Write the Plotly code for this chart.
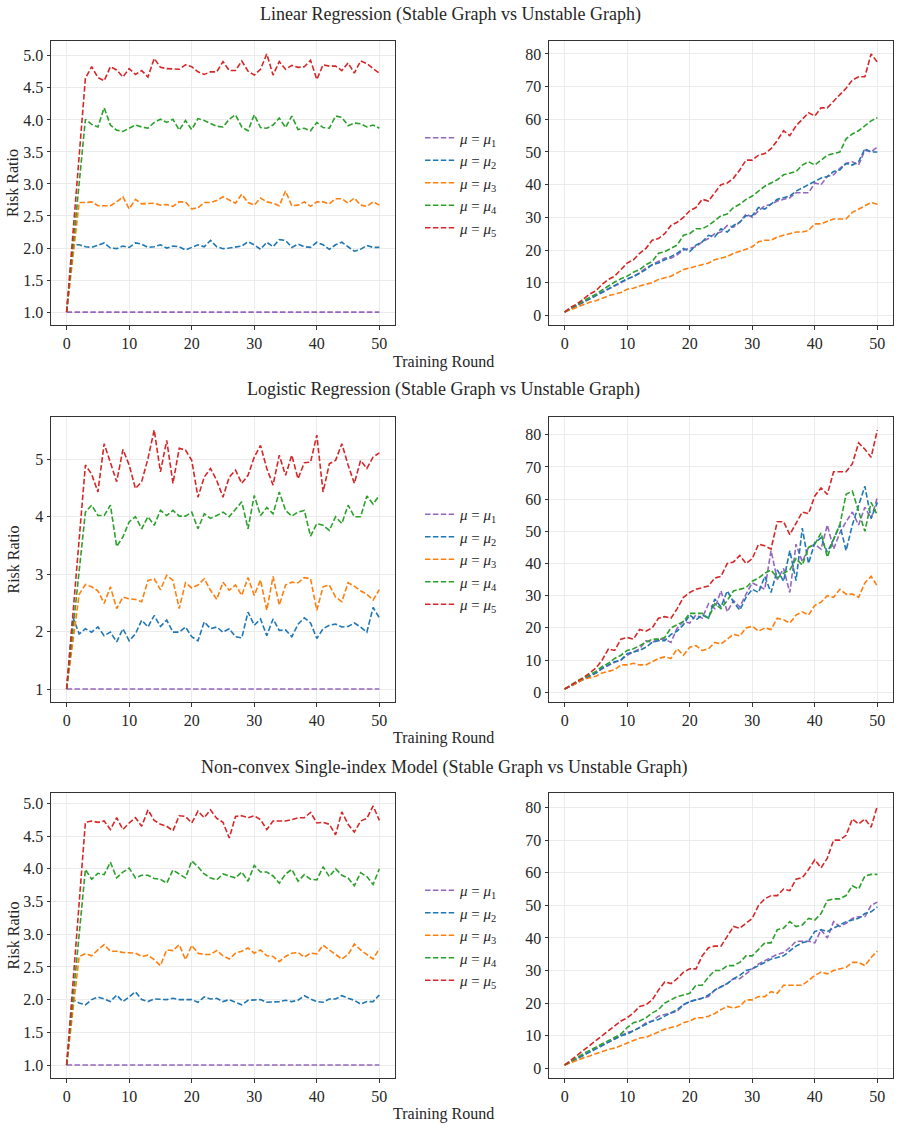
import plotly.graph_objects as go

# ---------------- data ----------------
rounds = list(range(51))
series_labels = ["<i>μ</i> = <i>μ</i><sub>1</sub>", "<i>μ</i> = <i>μ</i><sub>2</sub>",
                 "<i>μ</i> = <i>μ</i><sub>3</sub>", "<i>μ</i> = <i>μ</i><sub>4</sub>",
                 "<i>μ</i> = <i>μ</i><sub>5</sub>"]
row_titles = ["Linear Regression (Stable Graph vs Unstable Graph)",
              "Logistic Regression (Stable Graph vs Unstable Graph)",
              "Non-convex Single-index Model (Stable Graph vs Unstable Graph)"]
x_ticks = [0, 10, 20, 30, 40, 50]

ones = [1.0, 1.0, 1.0, 1.0, 1.0, 1.0, 1.0, 1.0, 1.0, 1.0, 1.0, 1.0, 1.0, 1.0, 1.0, 1.0, 1.0,
        1.0, 1.0, 1.0, 1.0, 1.0, 1.0, 1.0, 1.0, 1.0, 1.0, 1.0, 1.0, 1.0, 1.0, 1.0, 1.0, 1.0,
        1.0, 1.0, 1.0, 1.0, 1.0, 1.0, 1.0, 1.0, 1.0, 1.0, 1.0, 1.0, 1.0, 1.0, 1.0, 1.0, 1.0]

# Linear regression, stable graph
lin_st_mu1 = ones
lin_st_mu2 = [1.0, 2.05, 2.05, 2.02, 2.01, 2.05, 2.08, 2.00, 1.99, 2.03, 2.01, 2.08, 2.06, 2.01, 2.02, 2.05, 2.00,
              2.03, 2.02, 1.97, 2.01, 2.05, 2.02, 2.12, 2.02, 1.99, 2.00, 2.02, 2.03, 2.10, 2.05, 1.98, 2.09, 2.02,
              2.13, 2.12, 2.01, 2.06, 2.02, 2.01, 2.09, 2.05, 1.98, 2.05, 2.09, 2.02, 1.95, 1.98, 2.04, 2.01, 2.01]
lin_st_mu3 = [1.0, 1.85, 2.71, 2.71, 2.72, 2.66, 2.66, 2.66, 2.72, 2.80, 2.61, 2.76, 2.69, 2.70, 2.70, 2.67, 2.68,
              2.65, 2.72, 2.72, 2.61, 2.63, 2.71, 2.71, 2.74, 2.80, 2.75, 2.70, 2.84, 2.71, 2.67, 2.78, 2.72, 2.70,
              2.66, 2.89, 2.66, 2.67, 2.72, 2.65, 2.72, 2.72, 2.69, 2.77, 2.77, 2.70, 2.78, 2.67, 2.65, 2.72, 2.67]
lin_st_mu4 = [1.0, 2.0, 3.0, 4.01, 3.93, 3.89, 4.19, 3.92, 3.84, 3.82, 3.87, 3.92, 3.89, 3.87, 3.96, 4.01, 3.96,
              4.01, 3.84, 3.99, 3.85, 4.02, 3.99, 3.95, 3.90, 3.89, 4.01, 4.08, 3.89, 3.83, 4.08, 3.88, 3.87, 3.92,
              4.03, 3.88, 4.06, 3.85, 3.87, 3.83, 3.96, 3.88, 3.87, 4.06, 4.04, 3.91, 3.95, 3.94, 3.89, 3.92, 3.87]
lin_st_mu5 = [1.0, 2.2, 3.4, 4.65, 4.83, 4.66, 4.61, 4.83, 4.78, 4.67, 4.80, 4.71, 4.77, 4.67, 4.96, 4.82, 4.80,
              4.79, 4.79, 4.86, 4.83, 4.75, 4.71, 4.75, 4.75, 4.91, 4.77, 4.77, 4.92, 4.76, 4.70, 4.79, 5.03, 4.70,
              4.91, 4.79, 4.85, 4.82, 4.83, 4.93, 4.63, 4.86, 4.84, 4.84, 4.77, 4.89, 4.73, 4.92, 4.88, 4.80, 4.73]

# Linear regression, unstable graph
lin_un_mu1 = [1, 2, 3, 4, 5, 6, 7, 8, 9, 10, 11, 12, 13, 14.5, 15.5, 16.5, 17.5, 17.5, 18.5, 20, 20.5, 21, 22.5,
              23.5, 25, 25.5, 27.5, 27, 28.5, 31, 30, 32, 33.5, 34, 35, 35.5, 36, 37.5, 37.5, 37.5, 40.5, 40, 42.5,
              43, 45, 46.5, 47, 46, 50.5, 50, 51.5]
lin_un_mu2 = [1, 2, 3, 4, 5, 6, 7, 8, 9, 10, 11.2, 11.8, 13, 14, 15.5, 16, 17, 18, 19, 20.5, 19.5, 21.5, 22.5,
              24.5, 24, 26.5, 25.5, 27.5, 28.5, 30.5, 30.5, 33, 32.5, 34, 35.5, 36, 36.5, 38, 39, 40, 41, 42, 42.5,
              44, 44.5, 46.5, 46, 47, 51, 50, 50]
lin_un_mu3 = [1, 1.8, 2.5, 3.3, 4, 4.5, 5.3, 6, 6.5, 7, 8, 8.3, 9, 9.5, 10, 11, 11.5, 12, 13, 14, 14.5, 15, 15.5,
              16, 17, 17.5, 18, 19, 19.5, 20.2, 21, 22.5, 23, 23, 24, 24.5, 25, 25.5, 25.5, 26, 28, 28, 28.8, 29.5,
              29.5, 29.5, 31.5, 32.5, 33.5, 34.5, 34]
lin_un_mu4 = [1, 2.3, 3.3, 4.5, 5.5, 6.5, 7.8, 9, 10.2, 11.2, 12, 13.2, 14, 15.5, 16.5, 19, 19.5, 20.5, 21.5, 24.5,
              25, 26.5, 26.5, 27.5, 29, 30.5, 31, 33, 34, 35.5, 36.5, 38, 39.5, 40.5, 41.5, 43, 43.5, 44, 46, 47,
              46, 47.5, 49, 49.5, 50, 54, 55.5, 56.5, 58, 59.5, 60.5]
lin_un_mu5 = [1, 2.5, 3.5, 5, 6.5, 7.5, 9.5, 11, 12, 14, 16, 17, 19, 20.5, 23, 23.5, 25, 27.5, 28.5, 30, 32, 33,
              35.5, 35, 37.5, 40, 40.5, 42, 44.5, 47.5, 47.5, 49, 49.5, 51, 53.5, 56.5, 55, 58, 60, 62, 61, 63.5,
              63.5, 65.5, 67.5, 69.5, 72, 73, 73, 80, 77.5]

# Logistic regression, stable graph
log_st_mu1 = ones
log_st_mu2 = [1.0, 2.25, 1.96, 2.05, 1.99, 2.08, 1.93, 1.99, 1.82, 2.05, 1.84, 1.96, 2.20, 2.08, 2.28, 2.09, 2.20,
              1.99, 1.99, 2.08, 1.91, 1.84, 2.17, 2.05, 2.08, 1.99, 2.05, 1.91, 1.89, 2.34, 2.11, 2.22, 1.93, 2.22,
              2.02, 2.03, 1.91, 2.13, 2.24, 2.15, 1.88, 2.05, 2.11, 2.13, 2.08, 2.09, 2.15, 2.08, 1.99, 2.42, 2.24]
log_st_mu3 = [1.0, 1.8, 2.65, 2.82, 2.78, 2.71, 2.49, 2.78, 2.40, 2.60, 2.57, 2.56, 2.52, 2.89, 2.92, 2.73, 2.98,
              2.89, 2.40, 2.85, 2.76, 2.81, 2.92, 2.72, 2.56, 2.86, 2.72, 2.81, 2.63, 2.94, 2.63, 2.90, 2.37, 2.96,
              2.46, 2.81, 2.86, 2.85, 2.94, 2.92, 2.37, 2.78, 2.81, 2.60, 2.52, 2.85, 2.79, 2.71, 2.65, 2.55, 2.73]
log_st_mu4 = [1.0, 2.0, 3.0, 4.08, 4.20, 4.02, 4.02, 4.20, 3.48, 3.65, 3.91, 4.00, 3.79, 4.00, 3.85, 4.11, 4.02,
              4.11, 4.01, 4.01, 4.08, 3.79, 4.05, 3.97, 4.02, 4.08, 4.00, 4.14, 4.26, 3.79, 4.37, 4.02, 4.16, 4.05,
              4.43, 4.11, 4.01, 4.08, 4.11, 3.66, 3.88, 3.85, 3.76, 4.00, 3.88, 4.20, 4.00, 4.00, 4.36, 4.22, 4.37]
log_st_mu5 = [1.0, 2.3, 3.6, 4.90, 4.74, 4.43, 5.27, 4.95, 4.61, 5.17, 4.90, 4.49, 4.61, 5.01, 5.51, 4.78, 5.33,
              4.58, 5.19, 5.16, 4.98, 4.34, 4.69, 4.84, 4.63, 4.34, 4.69, 4.81, 4.58, 4.72, 5.04, 5.24, 4.84, 4.55,
              5.07, 4.72, 5.07, 4.66, 4.94, 4.95, 5.42, 4.43, 4.92, 4.98, 5.27, 4.90, 4.58, 4.98, 4.84, 5.04, 5.11]

# Logistic regression, unstable graph
log_un_mu1 = [1, 2, 3, 4, 5, 6, 7.3, 8.3, 9.3, 10, 11.5, 12.5, 13.5, 16, 15.5, 16.5, 16.5, 15.5, 20, 22, 21.5,
              24, 23, 27.5, 26, 31.5, 25, 28.5, 26.5, 30.5, 34, 33, 32, 44, 35, 38.5, 31, 46, 40.5, 45, 46, 44.5,
              52, 44.5, 49.5, 53, 56, 52, 57.5, 54, 60.5]
log_un_mu2 = [1, 2, 3, 4, 5, 6, 7.5, 8.5, 9.5, 10, 12, 12.5, 13, 14, 15.5, 16, 16, 18, 19, 21, 24, 22.5, 24, 23,
              29, 26.5, 31.5, 28, 25.5, 29.5, 32, 31, 36, 31, 38, 34.5, 44, 34.7, 51, 40, 46.5, 48, 43.5, 47.5, 52,
              44, 52, 58, 64, 54, 59]
log_un_mu3 = [1, 2, 3, 4, 4.5, 5, 6, 6.5, 7, 8.5, 8.5, 9, 8.5, 8.5, 9.5, 10.5, 11, 10.5, 13.5, 11.5, 14, 14.5, 13,
              13.5, 15.5, 15, 16.5, 18, 17.5, 20, 20.5, 19, 20, 19.5, 23, 22.5, 21.5, 24, 25, 24, 27, 28, 30, 29.5,
              32, 30.5, 30.5, 29.5, 34, 36, 33]
log_un_mu4 = [1, 2.3, 3.5, 4.5, 5.5, 6.5, 8, 9, 10.5, 11.5, 13, 13.5, 14.5, 15.5, 16.5, 16.5, 17, 20, 21, 22,
              24.5, 24.5, 24.5, 23, 27.5, 26, 28.5, 31.5, 32, 32.5, 34.5, 35.5, 37, 38, 35.5, 37, 38, 41.5, 39.5,
              45, 46, 49.5, 42, 47.5, 52, 61.5, 62.5, 56, 50, 59, 55]
log_un_mu5 = [1, 2.2, 3.5, 4.5, 6, 7.5, 10, 13.5, 13, 16.5, 17, 16.5, 19.5, 19, 20, 23, 23.5, 23, 26, 29.5, 31,
              32, 32.5, 33, 35.5, 36, 40, 40.5, 42.5, 40, 41.5, 46, 45.5, 44.5, 53, 53, 49, 52.5, 56, 55.5, 61,
              63.5, 61.5, 68.5, 68.5, 68.5, 71, 77.5, 75.5, 73, 81.5]

# Non-convex single-index model, stable graph
nc_st_mu1 = ones
nc_st_mu2 = [1.0, 2.00, 1.95, 1.92, 2.00, 2.04, 2.01, 1.97, 2.07, 1.97, 2.04, 2.12, 2.00, 1.97, 2.01, 2.01, 2.00,
             2.02, 2.00, 2.00, 2.00, 1.96, 2.04, 2.01, 2.02, 1.97, 2.00, 1.96, 1.92, 1.99, 1.99, 2.00, 1.96, 1.96,
             1.97, 1.99, 1.97, 1.99, 2.06, 2.01, 1.97, 1.96, 2.01, 2.01, 2.06, 2.02, 1.99, 1.93, 1.97, 1.97, 2.07]
nc_st_mu3 = [1.0, 1.85, 2.66, 2.70, 2.67, 2.76, 2.84, 2.74, 2.74, 2.72, 2.72, 2.71, 2.66, 2.68, 2.61, 2.52, 2.76,
             2.75, 2.84, 2.61, 2.83, 2.71, 2.69, 2.69, 2.75, 2.67, 2.62, 2.71, 2.74, 2.79, 2.71, 2.76, 2.67, 2.66,
             2.58, 2.66, 2.71, 2.72, 2.65, 2.71, 2.70, 2.83, 2.76, 2.69, 2.62, 2.69, 2.85, 2.76, 2.69, 2.62, 2.78]
nc_st_mu4 = [1.0, 2.0, 3.0, 3.99, 3.84, 3.93, 3.91, 4.10, 3.86, 3.95, 4.01, 3.86, 3.90, 3.90, 3.85, 3.84, 3.78,
             3.98, 3.92, 3.86, 4.12, 4.03, 3.92, 3.86, 3.83, 3.92, 3.89, 3.86, 3.95, 3.81, 4.05, 3.95, 3.95, 3.89,
             3.78, 3.92, 3.99, 3.81, 3.91, 3.84, 3.83, 4.03, 3.88, 4.00, 3.90, 3.86, 3.74, 3.94, 3.88, 3.76, 4.00]
nc_st_mu5 = [1.0, 2.2, 3.45, 4.71, 4.73, 4.71, 4.73, 4.60, 4.78, 4.60, 4.70, 4.78, 4.65, 4.90, 4.74, 4.68, 4.65,
             4.58, 4.81, 4.80, 4.70, 4.88, 4.78, 4.90, 4.77, 4.71, 4.47, 4.80, 4.81, 4.78, 4.81, 4.75, 4.60, 4.73,
             4.73, 4.73, 4.75, 4.78, 4.78, 4.86, 4.70, 4.71, 4.68, 4.52, 4.87, 4.68, 4.56, 4.73, 4.77, 4.96, 4.74]

# Non-convex single-index model, unstable graph
nc_un_mu1 = [1, 2, 3, 4, 5, 6, 7, 8, 9, 10, 11, 11.5, 12.5, 14, 14.5, 16, 16.5, 17, 17.5, 19.5, 20.5, 21, 21.5,
             22, 24, 25, 26, 27.5, 27.5, 29, 30.5, 32, 33, 34, 35, 35.5, 37, 39, 39, 39, 38.5, 42.5, 40, 45, 43.5,
             44.5, 46, 46.5, 46.5, 50, 51]
nc_un_mu2 = [1, 2, 3, 4, 5, 6, 7, 8, 9, 10, 10.5, 11.5, 12.5, 13.5, 14.5, 15, 16, 17, 18, 19.5, 20.5, 21, 21.5,
             22.5, 24, 25, 26, 27.5, 28.5, 30, 30.5, 31.5, 32.5, 33.5, 34, 34.5, 36, 37.5, 38.5, 39, 42, 42.5, 42,
             43, 44, 45, 45.5, 46, 47.5, 48, 49.5]
nc_un_mu3 = [1, 1.8, 2.5, 3.2, 3.8, 4.5, 5.2, 5.8, 6.2, 7, 7.8, 8.5, 9.3, 9.5, 10.3, 11.3, 12, 12.5, 13, 14, 14.5,
             15.5, 15.5, 16, 16.8, 18, 19, 18.5, 19, 21, 21, 22, 22, 23.5, 23, 25.5, 25.5, 25.5, 25.5, 27, 28.5,
             29.5, 29, 30, 30.5, 31, 32.5, 32.5, 31.5, 34, 36]
nc_un_mu4 = [1, 2.2, 3.3, 4.5, 5.5, 6.5, 7.5, 8.5, 9.5, 10.5, 12.5, 14, 14.5, 15.5, 17, 18, 20, 21, 22, 22.5, 23,
             25.5, 25.5, 28, 30, 30, 31.5, 31.5, 32.5, 34.5, 34.5, 36.5, 38.5, 38.5, 42.5, 43, 45, 43.5, 44, 46,
             45.5, 47.5, 51.5, 52, 52, 53, 56, 55, 59, 59.5, 59.5]
nc_un_mu5 = [1, 2.5, 4, 5.5, 7, 8.5, 10, 11.5, 13, 14.5, 15.5, 17, 19, 19.5, 21, 24, 26.5, 26, 27.5, 29.5, 30.5,
             30.5, 34.5, 37, 37.5, 37.5, 40.5, 43.5, 43, 44.5, 46, 50, 52, 53, 53, 55, 54.5, 58, 58.5, 61, 64,
             61.5, 64.5, 70, 70, 71.5, 76.5, 75, 76.5, 74, 80.5]

# ---------------- styling ----------------
W, H = 900, 1130
FONT = "Liberation Serif"
TXT = "#262626"
colors = ["#9467bd", "#1f77b4", "#ff7f0e", "#2ca02c", "#d62728"]

panels = [
    [lin_st_mu1, lin_st_mu2, lin_st_mu3, lin_st_mu4, lin_st_mu5],
    [lin_un_mu1, lin_un_mu2, lin_un_mu3, lin_un_mu4, lin_un_mu5],
    [log_st_mu1, log_st_mu2, log_st_mu3, log_st_mu4, log_st_mu5],
    [log_un_mu1, log_un_mu2, log_un_mu3, log_un_mu4, log_un_mu5],
    [nc_st_mu1, nc_st_mu2, nc_st_mu3, nc_st_mu4, nc_st_mu5],
    [nc_un_mu1, nc_un_mu2, nc_un_mu3, nc_un_mu4, nc_un_mu5],
]

# pixel boxes of axes: (left, right), (top, bottom)
col_px = [(51, 395), (549, 893)]
row_px = [(41, 325), (417, 702), (793, 1078)]
row_title_y = [14, 389, 767]
row_title_x = [450, 443, 444]
xlabel_y = [362, 738, 1114]
left_dtick = [0.5, 1, 0.5]

fig = go.Figure()
layout = dict(
    width=W, height=H, margin=dict(l=0, r=0, t=0, b=0),
    paper_bgcolor="white", plot_bgcolor="white",
    font=dict(family=FONT, size=15, color=TXT),
    annotations=[],
)

for k, data in enumerate(panels):
    r, c = divmod(k, 2)
    idx = k + 1
    xname = "x" if idx == 1 else f"x{idx}"
    yname = "y" if idx == 1 else f"y{idx}"
    legname = "legend" if r == 0 else f"legend{r + 1}"
    for s in range(5):
        fig.add_trace(go.Scatter(
            x=rounds, y=data[s], mode="lines", name=series_labels[s],
            line=dict(color=colors[s], width=1.6, dash="5.5px,2.4px"),
            xaxis=xname, yaxis=yname, legend=legname, showlegend=(c == 0),
        ))
    allv = [v for s in data for v in s]
    lo, hi = min(allv), max(allv)
    pad = 0.05 * (hi - lo)
    (l, rr), (t, b) = col_px[c], row_px[r]
    axstyle = dict(showline=True, linecolor="#333333", linewidth=1, mirror=True,
                   showgrid=True, gridcolor="#ebebeb", gridwidth=0.8, zeroline=False,
                   ticks="outside", ticklen=3.5, tickwidth=0.8, tickcolor="#333333",
                   tickfont=dict(family=FONT, size=16, color=TXT))
    layout["xaxis" if idx == 1 else f"xaxis{idx}"] = dict(
        axstyle, domain=[l / W, rr / W], range=[-2.5, 52.5], tickvals=x_ticks,
        anchor=yname)
    if c == 0:
        ydt = dict(dtick=left_dtick[r], tick0=0,
                   tickformat=".1f" if left_dtick[r] < 1 else "d")
    else:
        ydt = dict(dtick=10, tick0=0, tickformat="d")
    layout["yaxis" if idx == 1 else f"yaxis{idx}"] = dict(
        axstyle, domain=[1 - b / H, 1 - t / H], range=[lo - pad, hi + pad],
        anchor=xname, **ydt)

for r in range(3):
    layout["annotations"].append(dict(
        text=row_titles[r], xref="paper", yref="paper", x=row_title_x[r] / W,
        y=1 - row_title_y[r] / H, showarrow=False, xanchor="center", yanchor="middle",
        font=dict(family=FONT, size=18, color=TXT)))
    layout["annotations"].append(dict(
        text="Training Round", xref="paper", yref="paper", x=443 / W,
        y=1 - xlabel_y[r] / H, showarrow=False, xanchor="center", yanchor="middle",
        font=dict(family=FONT, size=16, color=TXT)))
    t, b = row_px[r]
    layout["annotations"].append(dict(
        text="Risk Ratio", xref="paper", yref="paper", x=13 / W,
        y=1 - (t + b) / 2 / H, showarrow=False, xanchor="center", yanchor="middle",
        textangle=-90, font=dict(family=FONT, size=16, color=TXT)))
    legname = "legend" if r == 0 else f"legend{r + 1}"
    layout[legname] = dict(
        x=420 / W, xanchor="left", y=1 - (t + b) / 2 / H, yanchor="middle",
        bgcolor="rgba(0,0,0,0)", borderwidth=0,
        font=dict(family=FONT, size=15, color=TXT), itemwidth=30,
        traceorder="normal")

fig.update_layout(**layout)
fig.write_html("out.html")
